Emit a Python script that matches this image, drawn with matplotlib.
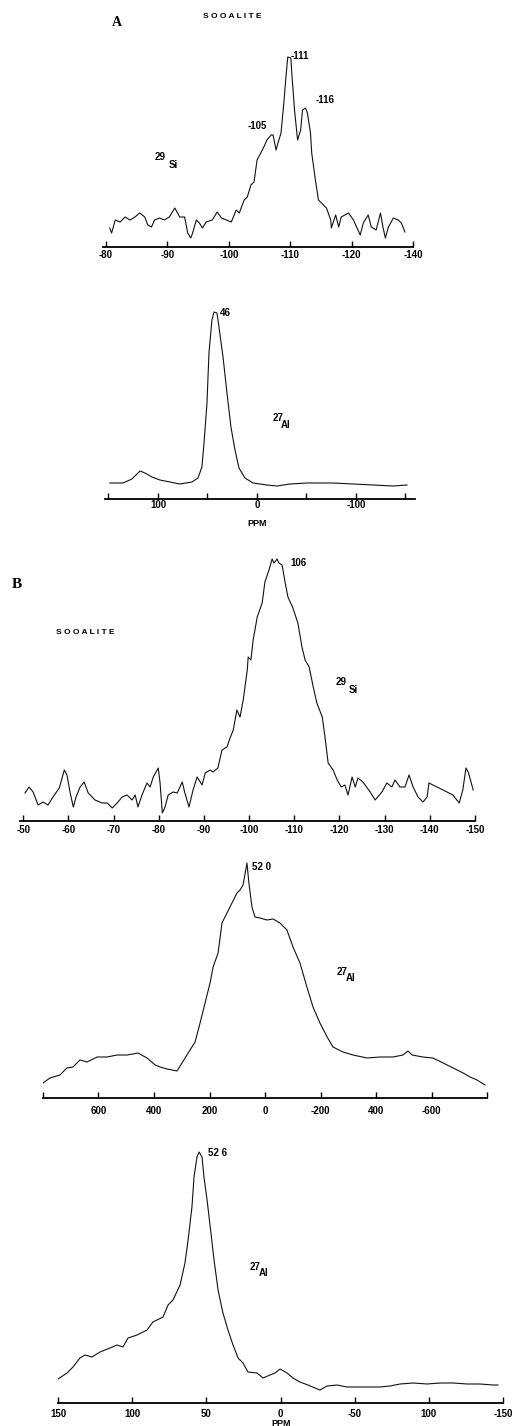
import matplotlib
matplotlib.use("Agg")
import matplotlib.pyplot as plt

# --- A: 29Si (ppm, intensidad relativa) ---
si_a_ppm = [-80.6, -80.9, -81.5, -82.3, -83.1, -83.9, -84.7, -85.5, -86.3, -86.8, -87.4, -87.9,
            -88.7, -89.5, -90.3, -91.2, -92.0, -92.8, -93.3, -93.8, -94.1, -94.7, -95.2, -95.7,
            -96.3, -97.3, -98.1, -98.8, -99.6, -100.4, -101.2, -101.7, -102.5, -103.0, -103.6,
            -104.1, -104.6, -105.2, -105.7, -106.2, -106.9, -107.2, -107.7, -108.0, -108.5,
            -109.0, -109.3, -109.6, -110.1, -110.3, -110.7, -111.2, -111.7, -112.0, -112.5,
            -112.8, -113.3, -113.5, -114.1, -114.6, -115.1, -115.9, -116.6, -116.7, -117.4,
            -117.9, -118.3, -119.5, -120.3, -121.4, -121.9, -122.7, -123.2, -124.0, -124.7,
            -125.1, -125.5, -126.0, -126.8, -127.6, -128.1, -128.7]
si_a_int = [19, 14, 27, 25, 30, 27, 30, 34, 30, 22, 20, 27, 29, 27, 30, 39, 30, 30, 14, 9, 14, 27,
            24, 19, 25, 27, 35, 29, 27, 25, 37, 34, 47, 50, 62, 65, 87, 94, 100, 107, 112, 112,
            97, 104, 114, 147, 170, 190, 189, 170, 137, 107, 117, 137, 139, 134, 114, 94, 67, 47,
            44, 39, 27, 19, 32, 20, 30, 34, 27, 12, 24, 32, 20, 17, 34, 20, 9, 20, 29, 27, 24, 15]

# --- A: 27Al ---
al_a_ppm = [148.5, 135.4, 126.3, 121.2, 118.2, 113.1, 106.1, 98.0, 87.9, 77.8, 65.7, 59.6, 55.6,
            53.5, 50.5, 48.5, 45.5, 43.4, 40.4, 38.4, 34.3, 30.3, 26.3, 22.2, 18.2, 12.1, 4.0,
            -10.1, -20.2, -33.3, -50.5, -63.6, -76.8, -97.0, -117.2, -137.4, -151.5]
al_a_int = [16, 16, 20, 25, 28, 26, 22, 19, 17, 15, 17, 21, 32, 56, 96, 146, 179, 187, 186, 172,
            142, 106, 72, 49, 31, 21, 16, 14, 13, 15, 16, 16, 16, 15, 14, 13, 14]

# --- B: 29Si ---
si_b_ppm = [-50.4, -51.3, -52.2, -53.3, -54.4, -55.5, -56.6, -58.0, -59.1, -59.7, -60.4, -61.1,
            -61.7, -62.6, -63.5, -64.4, -65.9, -67.5, -68.6, -69.7, -70.8, -71.9, -73.0, -74.1,
            -74.8, -75.4, -76.3, -77.4, -78.1, -78.8, -79.9, -80.3, -80.8, -81.4, -82.1, -83.2,
            -84.1, -85.2, -85.8, -86.7, -87.6, -88.5, -89.6, -90.3, -91.4, -92.0, -93.1, -94.0,
            -95.1, -95.8, -96.5, -97.3, -98.0, -98.7, -99.6, -99.8, -100.4, -100.9, -101.8,
            -102.9, -103.5, -104.4, -105.1, -105.5, -106.2, -106.6, -107.3, -108.0, -108.6,
            -109.7, -110.8, -111.7, -112.4, -113.3, -114.2, -115.0, -116.2, -116.8, -117.5,
            -118.6, -119.5, -120.4, -121.2, -121.9, -122.8, -123.5, -124.1, -125.2, -126.8,
            -127.9, -129.4, -130.5, -131.6, -132.3, -133.4, -134.5, -135.4, -136.3, -137.4,
            -138.5, -139.4, -139.8, -141.6, -143.8, -145.1, -146.5, -147.3, -148.0, -148.5, -149.6]
si_b_int = [28, 34, 29, 16, 19, 16, 24, 33, 51, 46, 28, 14, 24, 34, 39, 28, 21, 18, 18, 13, 18, 24,
            26, 21, 26, 14, 26, 38, 34, 44, 53, 38, 8, 14, 26, 29, 28, 39, 28, 14, 31, 44, 36, 48,
            51, 49, 53, 71, 74, 83, 91, 111, 104, 121, 151, 164, 161, 181, 204, 218, 239, 251, 262,
            258, 262, 258, 256, 238, 224, 213, 198, 174, 161, 154, 134, 118, 104, 84, 58, 51, 41,
            34, 36, 26, 44, 34, 43, 39, 29, 21, 29, 38, 34, 41, 34, 34, 46, 34, 24, 19, 24, 38, 34,
            29, 26, 18, 31, 53, 49, 31]

# --- B: 27Al (barrido ancho) ---
al_b1_ppm = [800, 775, 739, 714, 692, 667, 641, 605, 569, 533, 497, 476, 458, 425, 396, 378, 353,
             317, 299, 277, 252, 234, 216, 198, 187, 169, 155, 137, 119, 101, 90, 79, 65, 58, 47,
             36, 18, -7, -29, -54, -79, -101, -126, -151, -173, -198, -224, -245, -281, -317,
             -368, -415, -461, -497, -515, -530, -569, -605, -642, -678, -714, -739, -764, -793]
al_b1_int = [15, 20, 23, 30, 31, 38, 36, 41, 41, 43, 43, 44, 45, 40, 33, 31, 29, 27, 35, 45, 56,
             75, 95, 115, 131, 145, 175, 185, 195, 205, 208, 213, 235, 215, 191, 181, 180, 178,
             179, 175, 168, 151, 135, 111, 91, 75, 61, 51, 46, 43, 40, 41, 41, 43, 47, 43, 41, 40,
             35, 30, 25, 21, 18, 13]

# --- B: 27Al (barrido estrecho) ---
al_b2_ppm = [150.0, 143.9, 139.9, 135.2, 131.8, 127.1, 121.7, 114.9, 110.2, 106.2, 102.8, 96.7,
             90.0, 86.0, 79.2, 75.8, 72.5, 67.7, 64.4, 62.3, 59.7, 58.3, 56.3, 54.9, 52.9, 51.6,
             49.5, 46.9, 44.8, 42.1, 38.8, 35.4, 32.0, 28.6, 25.3, 21.9, 15.8, 11.8, 7.1, 3.7, 0.3,
             -4.4, -8.4, -13.1, -18.5, -23.3, -26.6, -31.4, -38.1, -44.8, -48.9, -58.3, -67.1,
             -73.8, -80.6, -89.4, -98.8, -107.6, -116.4, -125.8, -134.5, -143.3, -146.6]
al_b2_int = [24, 30, 36, 45, 48, 46, 51, 55, 58, 56, 65, 68, 73, 81, 86, 98, 103, 118, 140, 163,
             196, 226, 246, 251, 246, 226, 203, 170, 143, 113, 90, 73, 58, 45, 40, 31, 30, 25, 28,
             30, 34, 30, 25, 21, 18, 15, 13, 17, 18, 16, 16, 16, 16, 17, 19, 20, 19, 20, 20, 19,
             19, 18, 18]

W, H = 512, 1426
fig = plt.figure(figsize=(W / 100, H / 100), dpi=100)
fig.patch.set_facecolor("white")
SANS = "Liberation Sans"


def panel(x0, x1, ybase, height, xlim, ticks, labels, pad):
    # ejes colocados en pixeles de la figura, solo con el eje inferior
    ax = fig.add_axes([x0 / W, (H - ybase) / H, (x1 - x0) / W, height / H])
    ax.set_xlim(*xlim)
    ax.set_ylim(0, height)
    for s in ["top", "left", "right"]:
        ax.spines[s].set_visible(False)
    ax.spines["bottom"].set_linewidth(1.3)
    ax.set_yticks([])
    ax.set_xticks(ticks)
    ax.set_xticklabels(labels, fontfamily=SANS, fontsize=7, fontweight="bold")
    ax.tick_params(axis="x", direction="in", length=4, width=1, pad=pad)
    ax.patch.set_alpha(0)
    return ax


def txt(x, y, s, size=7, ha="left", **kw):
    kw.setdefault("fontfamily", SANS)
    kw.setdefault("fontweight", "bold")
    fig.text(x / W, 1 - y / H, s, fontsize=size, ha=ha, va="center", **kw)


lw = 0.8
c = "#111111"

# Panel A - 29Si
ax1 = panel(103, 413, 247, 200, (-79.5, -129.7), [-80, -90, -100, -110, -120, -130],
            ["-80", "-90", "-100", "-110", "-120", "-140"], 2)
ax1.plot(si_a_ppm, si_a_int, color=c, lw=lw)

# Panel A - 27Al
ax2 = panel(105, 415, 499, 200, (153.5, -159.6), [150, 100, 50, 0, -50, -100, -150],
            ["", "100", "", "0", "", "-100", ""], 1)
ax2.plot(al_a_ppm, al_a_int, color=c, lw=lw)

# Panel B - 29Si
ax3 = panel(20, 475, 821, 280, (-49.3, -150), list(range(-50, -151, -10)),
            [str(v) for v in range(-50, -151, -10)], 3)
ax3.plot(si_b_ppm, si_b_int, color=c, lw=lw)

# Panel B - 27Al ancho
ax4 = panel(43, 487, 1098, 260, (800, -800), list(range(800, -801, -200)),
            ["", "600", "400", "200", "0", "-200", "400", "-600", ""], 6)
ax4.plot(al_b1_ppm, al_b1_int, color=c, lw=lw)

# Panel B - 27Al estrecho
ax5 = panel(58, 503, 1403, 260, (150, -150), [150, 100, 50, 0, -50, -100, -150],
            ["150", "100", "50", "0", "-50", "100", "-150"], 4)
ax5.plot(al_b2_ppm, al_b2_int, color=c, lw=lw)

# Textos
txt(112, 22, "A", size=10, fontfamily="Liberation Serif")
txt(203, 17, "S O O A L I T E", size=6)
txt(248, 126, "-105")
txt(291, 56, "-111")
txt(316, 100, "-116")
txt(155, 157, "29")
txt(169, 165, "Si")

txt(220, 313, "46")
txt(273, 418, "27")
txt(281, 425, "Al")
txt(257, 524, "PPM", size=6.5, ha="center")

txt(12, 585, "B", size=11, fontfamily="Liberation Serif")
txt(56, 633, "S O O A L I T E", size=6)
txt(290, 563, "106")
txt(336, 682, "29")
txt(349, 690, "Si")

txt(252, 867, "52 0")
txt(337, 972, "27")
txt(346, 978, "Al")

txt(208, 1153, "52 6")
txt(250, 1267, "27")
txt(259, 1273, "Al")
txt(281, 1424, "PPM", size=6.5, ha="center")

fig.savefig("out.png", dpi=100, facecolor="white")
